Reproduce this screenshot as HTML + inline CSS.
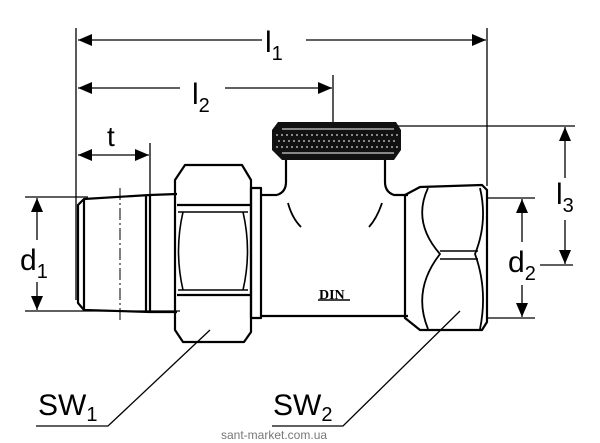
<!DOCTYPE html>
<html><head><meta charset="utf-8"><style>
html,body{margin:0;padding:0;background:#fff;}
svg{display:block;}
text{font-family:"Liberation Sans","DejaVu Sans",sans-serif;fill:#000;}
</style></head><body>
<svg width="600" height="443" viewBox="0 0 600 443" xmlns="http://www.w3.org/2000/svg">
<defs>
<marker id="b" markerWidth="14" markerHeight="12" refX="14" refY="6" orient="auto-start-reverse" markerUnits="userSpaceOnUse">
<path d="M0,0 L14,6 L0,12 z" fill="#000"/></marker>
</defs>
<g stroke="#000" stroke-width="1.3" fill="none">
<line x1="76" y1="28" x2="76" y2="300"/>
<line x1="487" y1="28" x2="487" y2="186"/>
<line x1="333" y1="75" x2="333" y2="124"/>
<line x1="150" y1="143" x2="150" y2="195"/>
<line x1="25" y1="197" x2="88" y2="197"/>
<line x1="25" y1="311" x2="180" y2="311"/>
<line x1="395" y1="126" x2="575" y2="126"/>
<line x1="487" y1="198" x2="535" y2="198"/>
<line x1="487" y1="318" x2="535" y2="318"/>
<line x1="540" y1="265" x2="573" y2="265"/>
<line x1="78" y1="40" x2="262" y2="40" marker-start="url(#b)"/>
<line x1="306" y1="40" x2="486" y2="40" marker-end="url(#b)"/>
<line x1="78" y1="88" x2="180" y2="88" marker-start="url(#b)"/>
<line x1="225" y1="88" x2="332" y2="88" marker-end="url(#b)"/>
<line x1="78" y1="155" x2="149" y2="155" marker-start="url(#b)" marker-end="url(#b)"/>
<line x1="37" y1="198" x2="37" y2="240" marker-start="url(#b)"/>
<line x1="37" y1="282" x2="37" y2="310" marker-end="url(#b)"/>
<line x1="565" y1="127" x2="565" y2="178" marker-start="url(#b)"/>
<line x1="565" y1="220" x2="565" y2="264" marker-end="url(#b)"/>
<line x1="522" y1="199" x2="522" y2="242" marker-start="url(#b)"/>
<line x1="522" y1="285" x2="522" y2="317" marker-end="url(#b)"/>
<line x1="120" y1="188" x2="120" y2="322" stroke-width="1" stroke-dasharray="12,3,2,3"/>
</g>
<g stroke="#000" stroke-width="2.2" fill="none" stroke-linejoin="round">
<path d="M78,205 L84,199 L150,195 L150,312 L84,310 L78,303 Z"/>
<line x1="84" y1="199" x2="84" y2="310"/>
<line x1="146" y1="195" x2="146" y2="312"/>
<line x1="150" y1="195" x2="177" y2="194"/>
<line x1="150" y1="312" x2="177" y2="312"/>
<path d="M185,165 L242,165 L251,180 L251,332 L244,342 L183,342 L175,330 L175,180 Z"/>
<path d="M177,205 L250,205 M177,295 L250,295"/>
<path d="M178,212 L248,212 M178,290 L248,290" stroke-width="1.5"/>
<path d="M183,212 Q174,251 183,290 M243,212 Q252,251 243,290" stroke-width="1.6"/>
<rect x="251" y="188" width="10" height="130"/>
<line x1="261" y1="195" x2="277" y2="195"/>
<path d="M277,195 Q286,192 286,182 L286,158"/>
<path d="M385,158 L385,182 Q385,192 394,195 L408,195"/>
<line x1="261" y1="316" x2="408" y2="316"/>
<path d="M288,203 Q292,218 301,227" stroke-width="1.8"/>
<path d="M382,203 Q377,218 369,227" stroke-width="1.8"/>
<path d="M405,195 L420,187 L482,185 L487,190 L487,322 L482,330 L420,330 L405,318 Z"/>
<path d="M428,188 Q412,222 440,254 Q412,290 428,329" stroke-width="1.8"/>
<path d="M480,188 Q488,222 475,254 Q488,290 480,329" stroke-width="1.8"/>
<path d="M440,251 L478,251 M440,259 L478,259" stroke-width="1.5"/>
</g>
<path d="M278,122 L396,122 L401,130 L401,150 L394,160 L282,160 L272,150 L272,130 Z" fill="#111"/>
<g stroke="#fff" stroke-width="1.1" stroke-dasharray="2,3">
<line x1="276" y1="135" x2="398" y2="135"/>
<line x1="278" y1="141" x2="398" y2="141"/>
<line x1="276" y1="147" x2="398" y2="147"/>
</g>
<line x1="282" y1="129" x2="394" y2="129" stroke="#fff" stroke-width="1"/>
<line x1="282" y1="153" x2="394" y2="153" stroke="#fff" stroke-width="1"/>
<text x="319" y="299" font-size="14" font-family="Liberation Serif,serif" font-weight="bold" style="font-family:'Liberation Serif',serif">DIN</text>
<line x1="318" y1="300" x2="350" y2="300" stroke="#000" stroke-width="1.5"/>
<g stroke="#000" stroke-width="1.3" fill="none">
<path d="M36,426 L108,426 L210,330"/>
<path d="M272,426 L343,426 L460,311"/>
</g>
<text x="265" y="52" font-size="30">l<tspan font-size="20" dy="8">1</tspan></text>
<text x="192" y="104" font-size="30">l<tspan font-size="20" dy="8">2</tspan></text>
<text x="107" y="146" font-size="28">t</text>
<text x="20" y="270" font-size="30">d<tspan font-size="20" dy="8">1</tspan></text>
<text x="556" y="204" font-size="30">l<tspan font-size="20" dy="8">3</tspan></text>
<text x="508" y="272" font-size="30">d<tspan font-size="20" dy="8">2</tspan></text>
<text x="38" y="415" font-size="30">SW<tspan font-size="20" dy="6">1</tspan></text>
<text x="273" y="415" font-size="30">SW<tspan font-size="20" dy="6">2</tspan></text>
<text x="221" y="439" font-size="12" style="fill:#777">sant-market.com.ua</text>
</svg>
</body></html>
